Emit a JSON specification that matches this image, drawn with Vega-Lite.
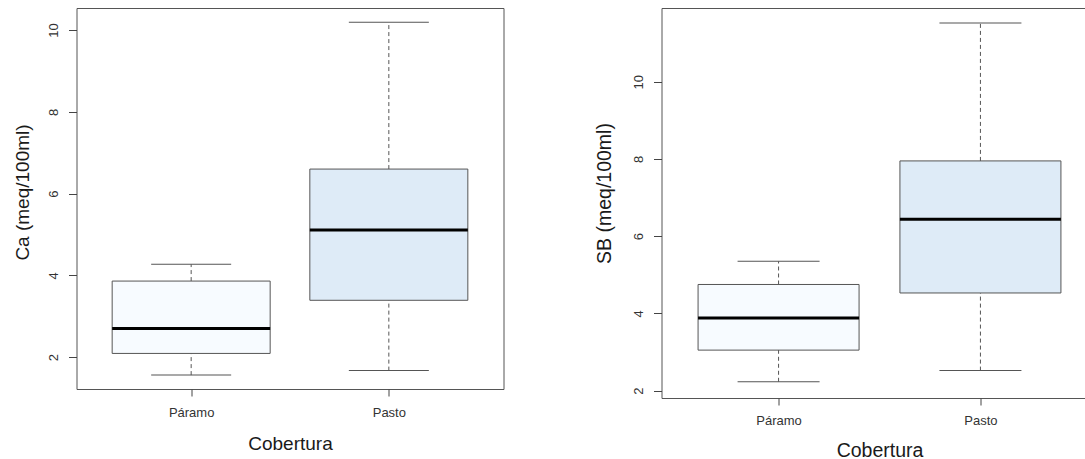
{
  "$schema": "https://vega.github.io/schema/vega-lite/v6.json",
  "background": "white",
  "padding": {"left": 12.5, "top": 7, "right": 0, "bottom": 0},
  "data": {"values": [
    {"Variable": "Ca", "Cobertura": "Páramo", "lower": 1.56, "q1": 2.09, "median": 2.70, "q3": 3.86, "upper": 4.27},
    {"Variable": "Ca", "Cobertura": "Pasto", "lower": 1.67, "q1": 3.39, "median": 5.11, "q3": 6.60, "upper": 10.19},
    {"Variable": "SB", "Cobertura": "Páramo", "lower": 2.23, "q1": 3.05, "median": 3.88, "q3": 4.75, "upper": 5.35},
    {"Variable": "SB", "Cobertura": "Pasto", "lower": 2.52, "q1": 4.53, "median": 6.44, "q3": 7.95, "upper": 11.52}
  ]},
  "bounds": "flush",
  "spacing": 158,
  "config": {
    "font": "Liberation Sans",
    "view": {"stroke": "#555", "strokeWidth": 1},
    "tick": {"opacity": 1},
    "axis": {"grid": false, "domain": false, "tickColor": "#444", "labelColor": "#333", "labelFont": "Liberation Sans", "titleFont": "Liberation Sans", "titleFontWeight": "normal", "titleColor": "#1a1a1a", "labelFontSize": 13}
  },
  "hconcat": [
    {
      "width": 427,
      "height": 381,
      "transform": [{"filter": "datum.Variable === 'Ca'"}],
      "encoding": {
        "x": {"field": "Cobertura", "type": "nominal", "sort": ["Páramo", "Pasto"],
          "scale": {"type": "point", "padding": 0.58},
          "axis": {"title": "Cobertura", "labelAngle": 0, "tickSize": 7, "labelPadding": 10, "titleFontSize": 19, "titleY": 54, "titleBaseline": "middle"}}
      },
      "layer": [
        {"mark": {"type": "rule", "strokeDash": [4, 3], "color": "#555"},
          "encoding": {"y": {"field": "lower", "type": "quantitative", "scale": {"domain": [1.22, 10.54], "nice": false, "zero": false},
            "axis": {"title": "Ca (meq/100ml)", "values": [2, 4, 6, 8, 10], "tickSize": 8, "labelPadding": 15, "labelAngle": 270, "labelAlign": "center", "labelBaseline": "middle", "titleFontSize": 19, "titleAngle": 270, "titleX": -54, "titleY": 184, "titleAlign": "center", "titleBaseline": "middle"}},
            "y2": {"field": "q1"}}},
        {"mark": {"type": "rule", "strokeDash": [4, 3], "color": "#555"},
          "encoding": {"y": {"field": "q3", "type": "quantitative"}, "y2": {"field": "upper"}}},
        {"mark": {"type": "tick", "size": 80, "thickness": 1, "color": "#555", "opacity": 1},
          "encoding": {"y": {"field": "lower", "type": "quantitative"}}},
        {"mark": {"type": "tick", "size": 80, "thickness": 1, "color": "#555", "opacity": 1},
          "encoding": {"y": {"field": "upper", "type": "quantitative"}}},
        {"mark": {"type": "bar", "width": 158, "stroke": "#555", "strokeWidth": 1, "opacity": 1},
          "encoding": {"y": {"field": "q1", "type": "quantitative"}, "y2": {"field": "q3"},
            "fill": {"field": "Cobertura", "type": "nominal", "scale": {"domain": ["Páramo", "Pasto"], "range": ["#F7FBFF", "#DEEBF7"]}, "legend": null}}},
        {"mark": {"type": "tick", "size": 158, "thickness": 3, "color": "#000", "opacity": 1},
          "encoding": {"y": {"field": "median", "type": "quantitative"}}}
      ]
    },
    {
      "width": 436,
      "height": 390,
      "transform": [{"filter": "datum.Variable === 'SB'"}],
      "encoding": {
        "x": {"field": "Cobertura", "type": "nominal", "sort": ["Páramo", "Pasto"],
          "scale": {"type": "point", "padding": 0.58},
          "axis": {"title": "Cobertura", "labelAngle": 0, "tickSize": 7, "labelPadding": 9, "titleFontSize": 19.5, "titleY": 52, "titleBaseline": "middle"}}
      },
      "layer": [
        {"mark": {"type": "rule", "strokeDash": [4, 3], "color": "#555"},
          "encoding": {"y": {"field": "lower", "type": "quantitative", "scale": {"domain": [1.81, 11.91], "nice": false, "zero": false},
            "axis": {"title": "SB (meq/100ml)", "values": [2, 4, 6, 8, 10], "tickSize": 8, "labelPadding": 15, "labelAngle": 270, "labelAlign": "center", "labelBaseline": "middle", "titleFontSize": 19.5, "titleAngle": 270, "titleX": -57, "titleY": 185, "titleAlign": "center", "titleBaseline": "middle"}},
            "y2": {"field": "q1"}}},
        {"mark": {"type": "rule", "strokeDash": [4, 3], "color": "#555"},
          "encoding": {"y": {"field": "q3", "type": "quantitative"}, "y2": {"field": "upper"}}},
        {"mark": {"type": "tick", "size": 82, "thickness": 1, "color": "#555", "opacity": 1},
          "encoding": {"y": {"field": "lower", "type": "quantitative"}}},
        {"mark": {"type": "tick", "size": 82, "thickness": 1, "color": "#555", "opacity": 1},
          "encoding": {"y": {"field": "upper", "type": "quantitative"}}},
        {"mark": {"type": "bar", "width": 161, "stroke": "#555", "strokeWidth": 1, "opacity": 1},
          "encoding": {"y": {"field": "q1", "type": "quantitative"}, "y2": {"field": "q3"},
            "fill": {"field": "Cobertura", "type": "nominal", "scale": {"domain": ["Páramo", "Pasto"], "range": ["#F7FBFF", "#DEEBF7"]}, "legend": null}}},
        {"mark": {"type": "tick", "size": 161, "thickness": 3, "color": "#000", "opacity": 1},
          "encoding": {"y": {"field": "median", "type": "quantitative"}}}
      ]
    }
  ],
  "resolve": {"scale": {"fill": "independent"}}
}
